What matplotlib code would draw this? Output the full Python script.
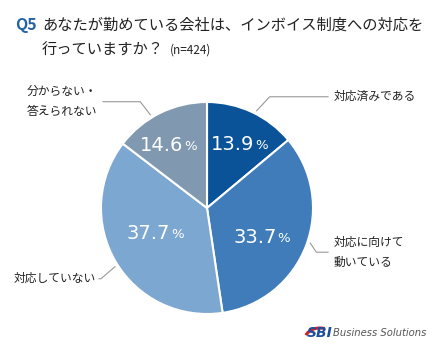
import numpy as np
import matplotlib.pyplot as plt
from matplotlib.patches import Arc

plt.rcParams['font.family'] = ['Noto Sans CJK JP', 'DejaVu Sans']

labels = ['対応済みである', '対応に向けて\n動いている', '対応していない', '分からない・\n答えられない']
values = [13.9, 33.7, 37.7, 14.6]
colors = ['#0b5399', '#3f7cb9', '#7ba7d0', '#8099b1']

W, H = 440, 355
CX, CY, R = 207, H - 208, 106

fig = plt.figure(figsize=(4.4, 3.55), dpi=100)
ax = fig.add_axes([0, 0, 1, 1])
ax.set_xlim(0, W)
ax.set_ylim(0, H)
ax.set_aspect('equal')
ax.axis('off')

wedges, _ = ax.pie(values, colors=colors, startangle=90, counterclock=False,
                   center=(CX, CY), radius=R,
                   wedgeprops=dict(edgecolor='white', linewidth=1.5))
ax.set_xlim(0, W)
ax.set_ylim(0, H)

# percent labels (angle shift, radius fraction) tweaks
pct_tweak = [(-4, 0.68), (-6, 0.61), (-3, 0.52), (3, 0.68)]
for w, v, (da, rf) in zip(wedges, values, pct_tweak):
    mid = np.deg2rad((w.theta1 + w.theta2) / 2 + da)
    x = CX + R * rf * np.cos(mid)
    y = CY + R * rf * np.sin(mid)
    ax.text(x + 12, y, f'{v:.1f}', ha='right', va='center', color='white',
            fontsize=14, fontfamily='DejaVu Sans')
    ax.text(x + 13, y - 1, '%', ha='left', va='center', color='white',
            fontsize=9.5, fontfamily='DejaVu Sans')

# leader lines + outside labels
lc = '#999999'
# (angle shift, elbow dx, elbow dy, end x, text x, text ha)
leader = [
    (-2, 13, 14, 328, 334, 'left'),
    (2, 6, -9, 328, 334, 'left'),
    (2, -14, -12, 99, 96, 'right'),
    (5, -10, 13, 103, 97, 'right'),
]
for w, lab, (da, ex, ey, endx, tx, ha) in zip(wedges, labels, leader):
    mid = np.deg2rad((w.theta1 + w.theta2) / 2 + da)
    sx = CX + R * 1.03 * np.cos(mid)
    sy = CY + R * 1.03 * np.sin(mid)
    ax.plot([sx, sx + ex, endx], [sy, sy + ey, sy + ey], color=lc, lw=0.8)
    ax.text(tx, sy + ey, lab, ha=ha, va='center', fontsize=8.5,
            color='#222222', linespacing=1.7)

# title
ax.text(15, H - 25, 'Q5', ha='left', va='center', fontsize=11.5,
        fontweight='bold', color='#2363a3')
ax.text(42, H - 25, 'あなたが勤めている会社は、インボイス制度への対応を',
        ha='left', va='center', fontsize=11, color='#222222')
ax.text(42, H - 50, '行っていますか？', ha='left', va='center', fontsize=11,
        color='#222222')
ax.text(170, H - 50, '(n=424)', ha='left', va='center', fontsize=8.5,
        color='#222222')

# logo
ax.add_patch(Arc((320, H - 339), 30, 22, theta1=65, theta2=165,
                 color='#d0202a', lw=2.2))
ax.text(307, H - 333, 'SBI', ha='left', va='center', fontsize=10,
        fontweight='bold', fontstyle='italic', color='#1d4f9c',
        fontfamily='DejaVu Sans')
ax.text(333, H - 333, 'Business Solutions', ha='left', va='center',
        fontsize=7.2, fontstyle='italic', color='#555555',
        fontfamily='DejaVu Sans')

fig.savefig('out.png', dpi=100)
